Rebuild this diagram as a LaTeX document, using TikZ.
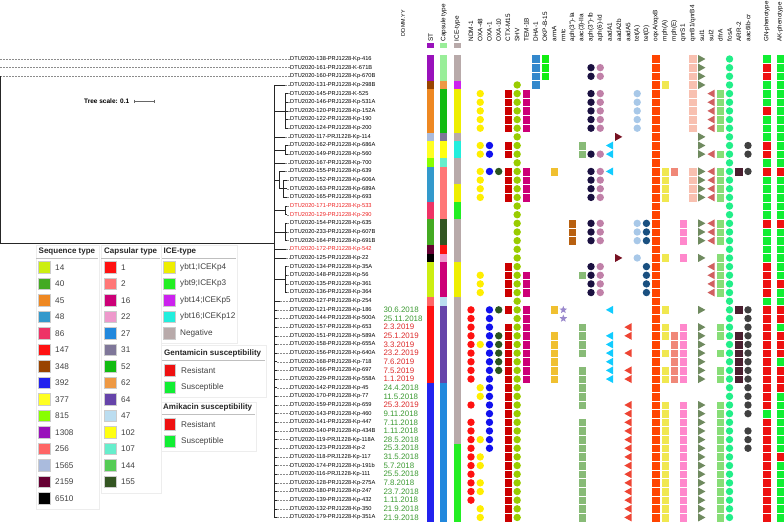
\documentclass[tikz,border=0pt]{standalone}
\usepackage{xcolor}
\usepackage{fontspec}
\setmainfont{Liberation Sans}
\usetikzlibrary{shapes.geometric}

\definecolor{st14}{HTML}{CCEE11}\definecolor{st40}{HTML}{44AA22}
\definecolor{st45}{HTML}{EE8822}\definecolor{st48}{HTML}{3399CC}
\definecolor{st86}{HTML}{EE3366}\definecolor{st147}{HTML}{FF1111}
\definecolor{st348}{HTML}{994400}\definecolor{st392}{HTML}{2222EE}
\definecolor{st377}{HTML}{FFFF22}\definecolor{st815}{HTML}{88FF00}
\definecolor{st1308}{HTML}{9911BB}\definecolor{st256}{HTML}{FF6666}
\definecolor{st1565}{HTML}{AABBDD}\definecolor{st2159}{HTML}{660033}
\definecolor{st6510}{HTML}{000000}
\definecolor{cp1}{HTML}{FF1111}\definecolor{cp2}{HTML}{FF7777}
\definecolor{cp16}{HTML}{CC0077}\definecolor{cp22}{HTML}{EE99CC}
\definecolor{cp27}{HTML}{2288DD}\definecolor{cp31}{HTML}{7F7799}
\definecolor{cp52}{HTML}{11BB11}\definecolor{cp62}{HTML}{EE9944}
\definecolor{cp64}{HTML}{6644AA}\definecolor{cp47}{HTML}{BBDDF0}
\definecolor{cp102}{HTML}{FFFF11}\definecolor{cp107}{HTML}{66EECC}
\definecolor{cp144}{HTML}{55CC55}\definecolor{cp155}{HTML}{335522}
\definecolor{cpx}{HTML}{99EE99}
\definecolor{ice1}{HTML}{EEEE00}\definecolor{ice9}{HTML}{22EE22}
\definecolor{ice14}{HTML}{CC22EE}\definecolor{ice16}{HTML}{22EEDD}
\definecolor{iceneg}{HTML}{B8AAAA}
\definecolor{res}{HTML}{EE1111}\definecolor{sus}{HTML}{11EE33}
\definecolor{dgrn}{HTML}{3C9A32}\definecolor{dred}{HTML}{DD2B2B}
\definecolor{lred}{HTML}{EE2222}
\definecolor{ndm}{HTML}{FF1111}\definecolor{oxaf}{HTML}{FFEE00}
\definecolor{oxao}{HTML}{1111EE}\definecolor{oxat}{HTML}{2A5520}
\definecolor{ctx}{HTML}{CC0000}\definecolor{shv}{HTML}{99CC00}
\definecolor{tem}{HTML}{CC0077}\definecolor{dha}{HTML}{3388CC}
\definecolor{okp}{HTML}{11EE11}\definecolor{arma}{HTML}{F0C030}
\definecolor{rmt}{HTML}{9988CC}\definecolor{aphia}{HTML}{B86010}
\definecolor{aacii}{HTML}{88BB77}\definecolor{aphib}{HTML}{1A1040}
\definecolor{aphid}{HTML}{C080A8}\definecolor{aada}{HTML}{11CCFF}
\definecolor{aadb}{HTML}{771122}\definecolor{aadf}{HTML}{EE4433}
\definecolor{teta}{HTML}{A8C8E8}\definecolor{tetd}{HTML}{1A5080}
\definecolor{oqx}{HTML}{FF4400}\definecolor{mpha}{HTML}{F0E850}
\definecolor{mphe}{HTML}{F08878}\definecolor{qnrs}{HTML}{FF88CC}
\definecolor{qnrb}{HTML}{F8C0B0}\definecolor{sulo}{HTML}{6F8A5F}
\definecolor{sult}{HTML}{D06060}\definecolor{dfra}{HTML}{88DD77}
\definecolor{fosa}{HTML}{22EE88}\definecolor{arr}{HTML}{4A2030}
\definecolor{aacc}{HTML}{404040}

\newcommand\ry[1]{59+8.65*(#1-1)}
\newcommand\gx[1]{471+9.233*#1}
\newcommand\gcirc[3]{\foreach \ra/\rb in {#3}{\foreach \rw in {\ra,...,\rb}{\fill[#2] ({#1},{\ry{\rw}}) circle (3.7);}}}
\newcommand\gsq[3]{\foreach \ra/\rb in {#3}{\foreach \rw in {\ra,...,\rb}{\filldraw[fill=#2,draw=white,line width=.35pt] ({#1-4.1},{\ry{\rw}-4.33}) rectangle ({#1+4.1},{\ry{\rw}+4.33});}}}
\newcommand\gleft[3]{\foreach \ra/\rb in {#3}{\foreach \rw in {\ra,...,\rb}{\fill[#2] ({#1-3.6},{\ry{\rw}}) -- ({#1+3.6},{\ry{\rw}-4}) -- ({#1+3.6},{\ry{\rw}+4}) -- cycle;}}}
\newcommand\gright[3]{\foreach \ra/\rb in {#3}{\foreach \rw in {\ra,...,\rb}{\fill[#2] ({#1+3.6},{\ry{\rw}}) -- ({#1-3.6},{\ry{\rw}-4}) -- ({#1-3.6},{\ry{\rw}+4}) -- cycle;}}}
\newcommand\strip[4]{\fill[#2] ({#1-3.4},{\ry{#3}-4.33}) rectangle ({#1+3.4},{\ry{#4}+4.33});}

\tikzset{
  tree/.style={draw=black!85, line width=.6pt},
  leader/.style={draw=black!45, dash pattern=on 1.5pt off 1.5pt, line width=.4pt},
  lbl/.style={font=\fontsize{5.7}{6}\selectfont, inner sep=0pt, anchor=west},
  datelbl/.style={font=\fontsize{7.9}{8}\selectfont, inner sep=0pt, anchor=west},
  hdr/.style={font=\fontsize{6.4}{7}\selectfont, rotate=90, anchor=west, inner sep=0pt},
  lgh/.style={font=\bfseries\fontsize{8}{9}\selectfont, text=black!85, inner sep=0pt, anchor=west},
  lgt/.style={font=\fontsize{8.2}{9}\selectfont, text=black!75, inner sep=0pt, anchor=west},
  lgbox/.style={draw=black!7, line width=.6pt},
  lgline/.style={draw=black!25, line width=.6pt},
  swatch/.style={draw=black!20, line width=.4pt}
}

\begin{document}
\begin{tikzpicture}[x=1pt, y=-1pt]
\useasboundingbox (0,0) rectangle (784,523);

% tree
\foreach \t/\c [count=\rw] in {DTU2020-138-PRJ1228-Kp-416/black, DTU2020-161-PRJ1228-K-671B/black,
  DTU2020-160-PRJ1228-Kp-670B/black, DTU2020-131-PRJ1228-Kp-298B/black, DTU2020-145-PRJ1228-K-525/black,
  DTU2020-146-PRJ1228-Kp-531A/black, DTU2020-120-PRJ1228-Kp-152A/black, DTU2020-122-PRJ1228-Kp-190/black,
  DTU2020-124-PRJ1228-Kp-200/black, DTU2020-117-PRJ1228-Kp-114/black, DTU2020-162-PRJ1228-Kp-686A/black,
  DTU2020-149-PRJ1228-Kp-560/black, DTU2020-167-PRJ1228-Kp-700/black, DTU2020-155-PRJ1228-Kp-639/black,
  DTU2020-152-PRJ1228-Kp-606A/black, DTU2020-163-PRJ1228-Kp-689A/black, DTU2020-165-PRJ1228-Kp-693/black,
  DTU2020-171-PRJ1228-Kp-533/lred, DTU2020-129-PRJ1228-Kp-290/lred, DTU2020-154-PRJ1228-Kp-635/black,
  DTU2020-233-PRJ1228-Kp-607B/black, DTU2020-164-PRJ1228-Kp-691B/black, DTU2020-172-PRJ1228-Kp-542/lred,
  DTU2020-125-PRJ1228-Kp-22/black, DTU2020-134-PRJ1228-Kp-35A/black, DTU2020-148-PRJ1228-Kp-56/black,
  DTU2020-135-PRJ1228-Kp-361/black, DTU2020-136-PRJ1228-Kp-364/black, DTU2020-127-PRJ1228-Kp-254/black,
  DTU2020-121-PRJ1228-Kp-186/black, DTU2020-144-PRJ1228-Kp-500A/black, DTU2020-157-PRJ1228-Kp-653/black,
  DTU2020-151-PRJ1228-Kp-589A/black, DTU2020-158-PRJ1228-Kp-655A/black, DTU2020-156-PRJ1228-Kp-640A/black,
  DTU2020-168-PRJ1228-Kp-718/black, DTU2020-166-PRJ1228-Kp-697/black, DTU2020-229-PRJ1228-Kp-558A/black,
  DTU2020-142-PRJ1228-Kp-45/black, DTU2020-170-PRJ1228-Kp-77/black, DTU2020-159-PRJ1228-Kp-659/black,
  DTU2020-143-PRJ1228-Kp-460/black, DTU2020-141-PRJ1228-Kp-447/black, DTU2020-140-PRJ1228-Kp-434B/black,
  DTU2020-119-PRJ1228-Kp-118A/black, DTU2020-123-PRJ1228-Kp-2/black, DTU2020-118-PRJ1228-Kp-117/black,
  DTU2020-174-PRJ1228-Kp-191b/black, DTU2020-116-PRJ1228-Kp-111/black, DTU2020-128-PRJ1228-Kp-275A/black,
  DTU2020-180-PRJ1228-Kp-247/black, DTU2020-139-PRJ1228-Kp-432/black, DTU2020-132-PRJ1228-Kp-350/black,
  DTU2020-179-PRJ1228-Kp-351A/black}
  \node[lbl, text=\c] (lab\rw) at (290,{\ry{\rw}}) {\t};

\foreach \rw/\tx in {1/0,2/0,3/0,4/285,10/285,13/285,14/285,23/286,24/286,29/280}
  \coordinate (tip\rw) at (\tx,{\ry{\rw}});
\foreach \rw in {5,...,9,11,12} \coordinate (tip\rw) at (288,{\ry{\rw}});
\foreach \rw in {15,...,22,25,26,27,28} \coordinate (tip\rw) at (287,{\ry{\rw}});
\foreach \rw in {30,...,54} \coordinate (tip\rw) at (277,{\ry{\rw}});
\foreach \rw in {1,...,54} \draw[leader] (tip\rw) -- (lab\rw.west);

\draw[tree] (tip3) -- (0,243) -- (274,243);
\draw[tree] (274,{\ry{4}}) -- (274,{\ry{54}});
\foreach \rw in {4,10,13,23,24,29,30,...,54} \draw[tree] (274,{\ry{\rw}}) -- (tip\rw);
\draw[tree] (274,{\ry{7}}) -- (285,{\ry{7}}) (285,{\ry{5}}) -- (285,{\ry{9}});
\foreach \rw in {5,...,9} \draw[tree] (285,{\ry{\rw}}) -- (tip\rw);
\draw[tree] (274,{\ry{11.5}}) -- (285,{\ry{11.5}}) (285,{\ry{11}}) -- (285,{\ry{12}});
\foreach \rw in {11,12} \draw[tree] (285,{\ry{\rw}}) -- (tip\rw);
\draw[tree] (274,{\ry{15}}) -- (279,{\ry{15}}) (279,{\ry{14}}) -- (279,{\ry{16}});
\draw[tree] (279,{\ry{14}}) -- (tip14) (279,{\ry{16}}) -- (283,{\ry{16}}) (283,{\ry{15}}) -- (283,{\ry{17}});
\foreach \rw in {15,16,17} \draw[tree] (283,{\ry{\rw}}) -- (tip\rw);
\draw[tree] (274,{\ry{18.5}}) -- (285,{\ry{18.5}}) (285,{\ry{18}}) -- (285,{\ry{19}});
\draw[tree] (274,{\ry{21}}) -- (285,{\ry{21}}) (285,{\ry{20}}) -- (285,{\ry{22}});
\foreach \rw in {18,...,22} \draw[tree] (285,{\ry{\rw}}) -- (tip\rw);
\draw[tree] (274,{\ry{26.5}}) -- (285,{\ry{26.5}}) (285,{\ry{25}}) -- (285,{\ry{28}});
\foreach \rw in {25,...,28} \draw[tree] (285,{\ry{\rw}}) -- (tip\rw);

\node[font=\bfseries\fontsize{6.5}{7}\selectfont, inner sep=0pt, anchor=west] (scl) at (84,101) {Tree scale: 0.1};
\draw[black!60, line width=.6pt] (134,101) -- (154,101) (134,99.5) -- (134,102.5) (154,99.5) -- (154,102.5);

% annotation strips
\foreach \c/\a/\b in {st1308/1/3, st348/4/4, st45/5/9, st1565/10/10, st377/11/12, st815/13/13, st48/14/17,
  st86/18/19, st40/20/22, st2159/23/23, st6510/24/24, st14/25/28, st256/29/29, st147/30/38, st392/39/54}
  \strip{430.6}{\c}{\a}{\b};
\foreach \c/\a/\b in {cpx/1/3, cp62/4/4, cp52/5/9, cp31/10/10, cp102/11/12, cp107/13/13, cp2/14/19,
  cp155/20/22, cp1/23/23, cp22/24/24, cp16/25/28, cp47/29/29, cp64/30/38, cp27/39/54}
  \strip{443.7}{\c}{\a}{\b};
\foreach \c/\a/\b in {iceneg/1/3, ice14/4/4, ice1/5/9, iceneg/10/10, ice16/11/12, iceneg/13/15, ice1/16/17,
  ice9/18/19, iceneg/20/24, ice1/25/28, iceneg/29/45, ice9/46/54}
  \strip{457.2}{\c}{\a}{\b};
\fill[st1308] (427.3,43.3) rectangle (434,47.6);
\fill[cpx] (440.4,43.3) rectangle (447,47.6);
\fill[iceneg] (453.9,43.3) rectangle (460.5,47.6);

\foreach \rw/\d/\c in {30/30.6.2018/dgrn, 31/25.11.2018/dgrn, 32/2.3.2019/dred, 33/25.1.2019/dred,
  34/3.3.2019/dred, 35/23.2.2019/dred, 36/7.6.2019/dred, 37/7.5.2019/dred, 38/1.1.2019/dred,
  39/24.4.2018/dgrn, 40/11.5.2018/dgrn, 41/25.3.2019/dred, 42/9.11.2018/dgrn, 43/7.11.2018/dgrn,
  44/1.11.2018/dgrn, 45/28.5.2018/dgrn, 46/25.3.2018/dgrn, 47/31.5.2018/dgrn, 48/5.7.2018/dgrn,
  49/25.5.2018/dgrn, 50/7.8.2018/dgrn, 51/23.7.2018/dgrn, 52/1.11.2018/dgrn, 53/21.9.2018/dgrn,
  54/21.9.2018/dgrn}
  \node[datelbl, text=\c] (date\rw) at (383.3,{\ry{\rw}}) {\d};

% headers
\node[hdr, font=\fontsize{5.4}{6}\selectfont] (hDate) at (403,37) {DD.MM.YY};
\node[hdr] (hST) at (430.6,41.5) {ST};
\node[hdr] (hCap) at (443.7,41.5) {Capsule type};
\node[hdr] (hICE) at (457.2,41.5) {ICE-type};
\foreach \t [count=\k from 0] in {NDM-1, OXA-48, OXA-1, OXA-10, CTX-M15, SHV, TEM-1B, DHA-1, OKP-B-15,
  armA, rmtc, {aph(3'{}')-Ia}, {aac(3)-IIa}, {aph(3'{}')-Ib}, {aph(6)-Id}, aadA1, aadA2b, aadA5, {tet(A)},
  {tet(D)}, oqxA/oqxB, {mph(A)}, {mph(E)}, qnrS1, qnrB1/qnrB4, sul1, sul2, dfrA, fosA, ARR-2, aac6Ib-cr}
  \node[hdr] (h\k) at ({\gx{\k}},41.5) {\t};
\node[hdr, font=\fontsize{6.2}{7}\selectfont] (hGN) at (766.7,42) {GN-phenotype};
\node[hdr, font=\fontsize{6.2}{7}\selectfont] (hAK) at (780,42) {AK-phenotype};

% genes
\gcirc{\gx{0}}{ndm}{30/38,41/41,43/52}
\gcirc{\gx{1}}{oxaf}{5/9,11/12,14/17,26/28,34/34,39/40,45/45,47/48,50/51,53/54}
\gcirc{\gx{2}}{oxao}{11/12,14/14,30/46}
\gcirc{\gx{3}}{oxat}{14/14,30/30,33/37}
\gsq{\gx{4}}{ctx}{5/9,11/12,14/17,25/28,30/30,32/54}
\gcirc{\gx{5}}{shv}{4/54}
\gsq{\gx{6}}{tem}{5/9,14/17,26/28,30/38}
\gsq{\gx{7}}{dha}{1/4}
\gsq{\gx{8}}{okp}{1/3}
\gsq{\gx{9}}{arma}{14/14,30/30,33/38}
\foreach \rw in {30,31}
  \node[star, star points=5, star point ratio=2.3, fill=rmt, inner sep=0pt, minimum size=8pt] (rm\rw) at ({\gx{10}},{\ry{\rw}}) {};
\gsq{\gx{11}}{aphia}{20/22}
\gsq{\gx{12}}{aacii}{11/12,26/26,32/35,37/41,43/54}
\gcirc{\gx{13}}{aphib}{2/3,5/9,12/12,14/17,20/22,25/28}
\gcirc{\gx{14}}{aphid}{2/3,5/9,12/12,14/17,20/22,25/28}
\gleft{\gx{15}}{aada}{11/12,14/14,30/30,33/38}
\gright{\gx{16}}{aadb}{10/10,24/24}
\gleft{\gx{17}}{aadf}{32/33,35/35,37/38,41/54}
\gcirc{\gx{18}}{teta}{5/9,20/22,24/24}
\gcirc{\gx{19}}{tetd}{20/22,25/28}
\gsq{\gx{20}}{oqx}{1/54}
\gsq{\gx{21}}{mpha}{4/4,14/17,24/24,30/30,32/33,35/35,37/38,41/54}
\gsq{\gx{22}}{mphe}{14/14,33/38}
\gsq{\gx{23}}{qnrs}{20/22,24/24,32/38,41/54}
\gsq{\gx{24}}{qnrb}{1/9,14/17}
\gright{\gx{25}}{sulo}{1/4,10/12,14/17,20/22,24/24,30/30,32/38,41/54}
\gleft{\gx{26}}{sult}{5/9,12/12,14/17,20/22,25/28}
\gsq{\gx{27}}{dfra}{5/9,12/12,14/17,20/22,24/28,32/33,35/35,37/38,41/54}
\gcirc{\gx{28}}{fosa}{1/54}
\gsq{\gx{29}}{arr}{14/14,30/30,33/38}
\gcirc{\gx{30}}{aacc}{11/12,14/14,30/42,44/46}
\gsq{766.7}{sus}{1/1,4/6,8/10,13/13,15/19,21/24,29/29,42/42}
\gsq{766.7}{res}{2/3,7/7,11/12,14/14,20/20,25/28,30/41,43/54}
\gsq{780}{sus}{1/13,15/19,21/26,28/29,32/32,36/36,40/46,48/54}
\gsq{780}{res}{14/14,20/20,27/27,30/31,33/35,37/39,47/47}

% legend
\draw[lgbox] (36,245) rectangle (99,509);
\draw[lgbox] (101,245) rectangle (161.5,493);
\draw[lgbox] (161.5,245) rectangle (237,343);
\draw[lgbox] (161.5,345) rectangle (266.5,397);
\draw[lgbox] (161.5,402) rectangle (256,451);
\node[lgh] (lgST) at (38.5,251.3) {Sequence type};
\node[lgh] (lgCap) at (104,251.3) {Capsular type};
\node[lgh] (lgICE) at (163.5,251.3) {ICE-type};
\node[lgh] (lgGen) at (164,353.7) {Gentamicin susceptibility};
\node[lgh] (lgAmi) at (163,407.7) {Amikacin susceptibility};
\draw[lgline] (36,258.3) -- (98,258.3) (101,258.3) -- (160,258.3) (162,258.3) -- (236,258.3);
\draw[lgline] (162,360.3) -- (265,360.3) (162,414.5) -- (255,414.5);
\foreach \c/\t [count=\i from 0] in {st14/14, st40/40, st45/45, st48/48, st86/86, st147/147, st348/348,
  st392/392, st377/377, st815/815, st1308/1308, st256/256, st1565/1565, st2159/2159, st6510/6510} {
  \filldraw[swatch, fill=\c] (38.5,{261.5+16.5*\i}) rectangle ++(11.5,11.5);
  \node[lgt] (lst\i) at (55,{267.3+16.5*\i}) {\t};
}
\foreach \c/\t [count=\i from 0] in {cp1/1, cp2/2, cp16/16, cp22/22, cp27/27, cp31/31, cp52/52, cp62/62,
  cp64/64, cp47/47, cp102/102, cp107/107, cp144/144, cp155/155} {
  \filldraw[swatch, fill=\c] (104.2,{261.5+16.5*\i}) rectangle ++(11.5,11.5);
  \node[lgt] (lcp\i) at (121,{267.3+16.5*\i}) {\t};
}
\foreach \c/\t [count=\i from 0] in {ice1/{ybt1;ICEKp4}, ice9/{ybt9;ICEKp3}, ice14/{ybt14;ICEKp5},
  ice16/{ybt16;ICEKp12}, iceneg/Negative} {
  \filldraw[swatch, fill=\c] (163.2,{261.5+16.5*\i}) rectangle ++(11.5,11.5);
  \node[lgt] (lice\i) at (180,{267.3+16.5*\i}) {\t};
}
\foreach \c/\t/\y [count=\i] in {res/Resistant/370.3, sus/Susceptible/387, res/Resistant/424.3, sus/Susceptible/441} {
  \filldraw[swatch, fill=\c] (163.7,{\y-5.8}) rectangle ++(11.5,11.5);
  \node[lgt] (lsus\i) at (181,\y) {\t};
}
\end{tikzpicture}
\end{document}
